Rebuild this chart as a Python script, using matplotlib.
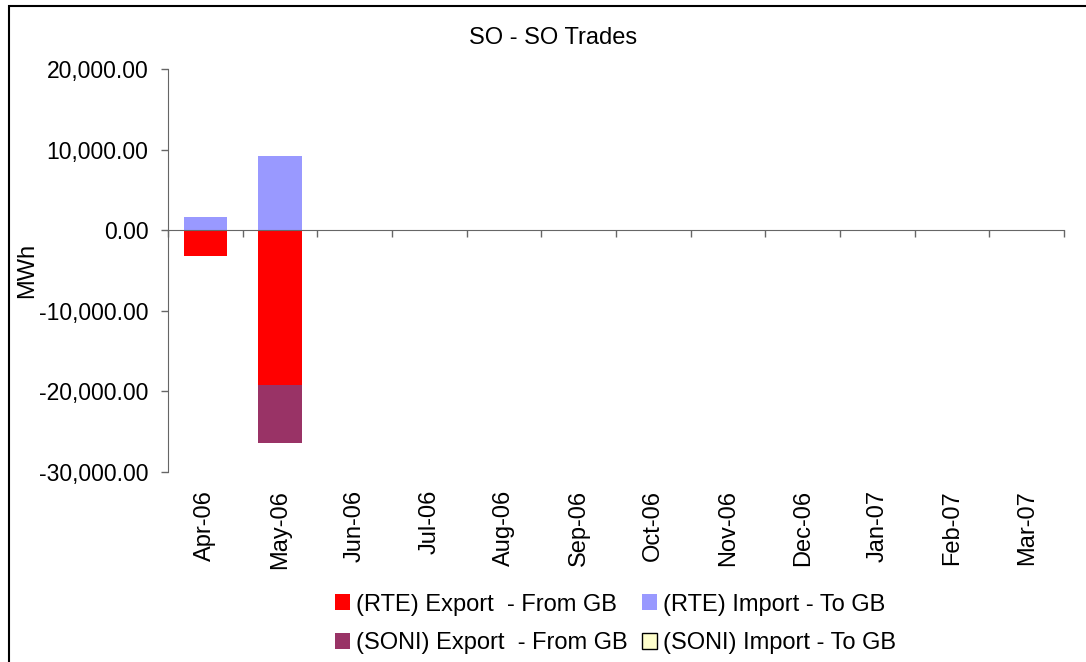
import matplotlib
matplotlib.use("Agg")
import matplotlib.pyplot as plt
from matplotlib.patches import Patch, Rectangle
from matplotlib.ticker import FuncFormatter
import matplotlib.transforms as mtransforms

plt.rcParams['font.family'] = ['Liberation Sans', 'DejaVu Sans']

months = ['Apr-06', 'May-06', 'Jun-06', 'Jul-06', 'Aug-06', 'Sep-06',
          'Oct-06', 'Nov-06', 'Dec-06', 'Jan-07', 'Feb-07', 'Mar-07']
rte_export = [-3200, -19200, 0, 0, 0, 0, 0, 0, 0, 0, 0, 0]
rte_import = [1600, 9200, 0, 0, 0, 0, 0, 0, 0, 0, 0, 0]
soni_export = [0, -7200, 0, 0, 0, 0, 0, 0, 0, 0, 0, 0]
soni_import = [0, 0, 0, 0, 0, 0, 0, 0, 0, 0, 0, 0]

colors = {
    'rte_export': '#FF0000',
    'rte_import': '#9999FF',
    'soni_export': '#993366',
    'soni_import': '#FFFFCC',
}
axis_grey = '#666666'
fs = 17

fig = plt.figure(figsize=(10.86, 6.62), dpi=100)
ax = fig.add_axes([168 / 1086, 1 - 471.7 / 662, 896 / 1086, (471.7 - 69) / 662])

x = list(range(len(months)))
w = 0.58
ax.bar(x, rte_export, w, color=colors['rte_export'], linewidth=0)
ax.bar(x, soni_export, w, bottom=rte_export, color=colors['soni_export'], linewidth=0)
ax.bar(x, rte_import, w, color=colors['rte_import'], linewidth=0)
ax.bar(x, soni_import, w, bottom=rte_import, color=colors['soni_import'], linewidth=0)

ax.set_xlim(-0.5, len(months) - 0.5)
ax.set_ylim(-30000, 20000)
ax.set_yticks([-30000, -20000, -10000, 0, 10000, 20000])
ax.yaxis.set_major_formatter(FuncFormatter(lambda v, p: f"{v:,.2f}"))
ax.tick_params(axis='y', direction='out', length=5, width=1, color=axis_grey,
               labelsize=16.5, pad=9)

for s in ['top', 'right']:
    ax.spines[s].set_visible(False)
ax.spines['left'].set_color(axis_grey)
ax.spines['bottom'].set_position(('data', 0))
ax.spines['bottom'].set_color(axis_grey)
ax.set_xticks([i - 0.5 for i in range(len(months) + 1)])
ax.set_xticklabels([])
ax.tick_params(axis='x', direction='out', length=5, width=1, color=axis_grey)

trans = mtransforms.blended_transform_factory(ax.transData, ax.transAxes)
for i, m in enumerate(months):
    ax.text(i, -0.045, m, transform=trans, rotation=90, ha='center', va='top',
            fontsize=fs)

fig.text(27 / 1086, 1 - 270 / 662, 'MWh', rotation=90, ha='center', va='center',
         fontsize=fs)

fig.text(553 / 1086, 1 - 38 / 662, 'SO - SO Trades', ha='center', va='center',
         fontsize=fs)

handles = [
    Patch(facecolor=colors['rte_export'], edgecolor='none', label='(RTE) Export  - From GB'),
    Patch(facecolor=colors['soni_export'], edgecolor='none', label='(SONI) Export  - From GB'),
    Patch(facecolor=colors['rte_import'], edgecolor='none', label='(RTE) Import - To GB'),
    Patch(facecolor=colors['soni_import'], edgecolor='black', linewidth=1,
          label='(SONI) Import - To GB'),
]
fig.legend(handles=handles, ncol=2, loc='center', bbox_to_anchor=(615.5 / 1086, 1 - 624 / 662),
           frameon=False, fontsize=fs, handlelength=0.66, handleheight=0.66,
           handletextpad=0.25, columnspacing=0.6, labelspacing=0.7, borderpad=0)

fig.add_artist(Rectangle((9 / 1086, -0.1), 1.2, 1 - 6 / 662 + 0.1, transform=fig.transFigure,
                         fill=False, edgecolor='black', linewidth=1.5))

fig.savefig('out.png', dpi=100)
